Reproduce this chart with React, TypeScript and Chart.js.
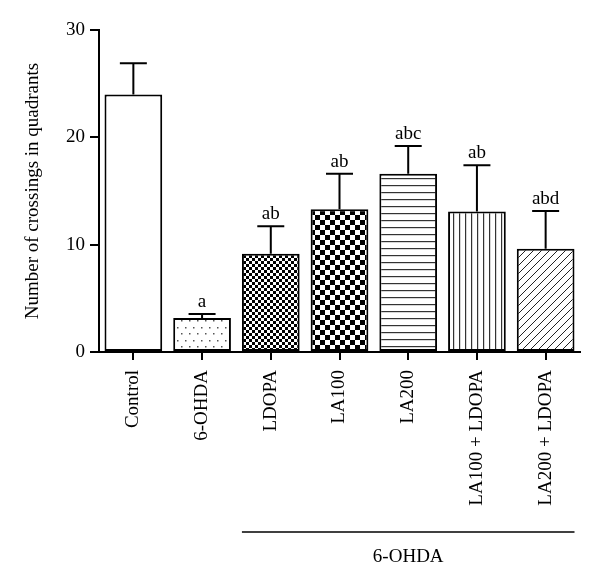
import React, { useEffect, useRef } from "react";
import { Chart, registerables } from "chart.js";

Chart.register(...registerables);

const categories = ["Control", "6-OHDA", "LDOPA", "LA100", "LA200", "LA100 + LDOPA", "LA200 + LDOPA"];
const means = [24.0, 3.17, 9.16, 13.3, 16.6, 13.1, 9.63];
const sems = [2.9, 0.37, 2.55, 3.3, 2.6, 4.3, 3.5];
const letters = ["", "a", "ab", "ab", "abc", "ab", "abd"];
const yTicks = [0, 10, 20, 30];
const groupLabel = "6-OHDA";
const groupStart = 2;
const groupEnd = 6;

const FONT = "'Liberation Serif', 'DejaVu Serif', serif";

function makePattern(w: number, h: number, draw: (ctx: CanvasRenderingContext2D) => void) {
  const c = document.createElement("canvas");
  c.width = w;
  c.height = h;
  const ctx = c.getContext("2d")!;
  ctx.fillStyle = "#fff";
  ctx.fillRect(0, 0, w, h);
  draw(ctx);
  return ctx.createPattern(c, "repeat")!;
}

function buildFills() {
  const white = "#ffffff";
  const dots = makePattern(8, 13, (ctx) => {
    ctx.fillStyle = "#555";
    ctx.fillRect(1, 2, 1.5, 1.5);
    ctx.fillRect(5, 8, 1.5, 1.5);
  });
  const fineCheck = makePattern(6, 6, (ctx) => {
    ctx.fillStyle = "#000";
    ctx.fillRect(0, 0, 3, 3);
    ctx.fillRect(3, 3, 3, 3);
  });
  const coarseCheck = makePattern(10, 10, (ctx) => {
    ctx.fillStyle = "#000";
    ctx.fillRect(0, 0, 5, 5);
    ctx.fillRect(5, 5, 5, 5);
  });
  const hLines = makePattern(7, 7, (ctx) => {
    ctx.fillStyle = "#333";
    ctx.fillRect(0, 3, 7, 1.2);
  });
  const vLines = makePattern(6, 6, (ctx) => {
    ctx.fillStyle = "#333";
    ctx.fillRect(3, 0, 1.2, 6);
  });
  const diag = makePattern(8, 8, (ctx) => {
    ctx.strokeStyle = "#222";
    ctx.lineWidth = 1;
    ctx.beginPath();
    ctx.moveTo(-1, 9);
    ctx.lineTo(9, -1);
    ctx.moveTo(-1, 1);
    ctx.lineTo(1, -1);
    ctx.moveTo(7, 9);
    ctx.lineTo(9, 7);
    ctx.stroke();
  });
  return [white, dots, fineCheck, coarseCheck, hLines, vLines, diag];
}

const errorBarPlugin = {
  id: "errorBars",
  afterDatasetsDraw(chart: any) {
    const ctx = chart.ctx;
    const xs = chart.scales.x;
    const ys = chart.scales.y;
    ctx.save();
    ctx.strokeStyle = "#000";
    ctx.lineWidth = 2;
    ctx.fillStyle = "#000";
    ctx.font = `19px ${FONT}`;
    ctx.textAlign = "center";
    ctx.textBaseline = "alphabetic";
    means.forEach((m, i) => {
      const x = xs.getPixelForValue(i);
      const y0 = ys.getPixelForValue(m);
      const y1 = ys.getPixelForValue(m + sems[i]);
      ctx.beginPath();
      ctx.moveTo(x, y0);
      ctx.lineTo(x, y1);
      ctx.moveTo(x - 13.5, y1);
      ctx.lineTo(x + 13.5, y1);
      ctx.stroke();
      if (letters[i]) ctx.fillText(letters[i], x, y1 - 7);
    });
    ctx.restore();
  },
  afterDraw(chart: any) {
    const ctx = chart.ctx;
    const xs = chart.scales.x;
    const meta = chart.getDatasetMeta(0);
    const half = meta.data[0].width / 2;
    const x1 = xs.getPixelForValue(groupStart) - half;
    const x2 = xs.getPixelForValue(groupEnd) + half;
    const yLine = chart.height - 56;
    ctx.save();
    ctx.strokeStyle = "#000";
    ctx.lineWidth = 1.5;
    ctx.beginPath();
    ctx.moveTo(x1, yLine);
    ctx.lineTo(x2, yLine);
    ctx.stroke();
    ctx.fillStyle = "#000";
    ctx.font = `19px ${FONT}`;
    ctx.textAlign = "center";
    ctx.textBaseline = "middle";
    ctx.fillText(groupLabel, (x1 + x2) / 2, yLine + 25);
    ctx.restore();
  },
};

export default function App() {
  const ref = useRef<HTMLCanvasElement>(null);
  useEffect(() => {
    const canvas = ref.current!;
    const fills = buildFills();
    const chart = new Chart(canvas, {
      type: "bar",
      data: {
        labels: categories,
        datasets: [
          {
            data: means,
            backgroundColor: fills as any,
            borderColor: "#000",
            borderWidth: 2,
            borderSkipped: false,
            categoryPercentage: 1,
            barPercentage: 0.84,
          },
        ],
      },
      options: {
        animation: false,
        responsive: false,
        devicePixelRatio: 1,
        layout: { padding: { top: 30, right: 20, left: 0, bottom: 0 } },
        plugins: { legend: { display: false }, tooltip: { enabled: false } },
        scales: {
          x: {
            offset: true,
            afterFit: (s: any) => {
              s.height = 236;
            },
            grid: {
              offset: false,
              drawOnChartArea: false,
              drawTicks: true,
              tickLength: 8,
              color: "#000",
              lineWidth: 2,
            },
            border: { color: "#000", width: 2 },
            ticks: {
              color: "#000",
              font: { family: FONT, size: 19 },
              minRotation: 90,
              maxRotation: 90,
              padding: 10,
              autoSkip: false,
            },
          },
          y: {
            min: 0,
            max: 30,
            afterFit: (s: any) => {
              s.width = 99;
            },
            afterBuildTicks: (s: any) => {
              s.ticks = yTicks.map((v) => ({ value: v }));
            },
            grid: {
              drawOnChartArea: false,
              drawTicks: true,
              tickLength: 9,
              color: "#000",
              lineWidth: 2,
            },
            border: { color: "#000", width: 2 },
            ticks: {
              color: "#000",
              font: { family: FONT, size: 19 },
              padding: 5,
            },
            title: {
              display: true,
              text: "Number of crossings in quadrants",
              color: "#000",
              font: { family: FONT, size: 19 },
              padding: { top: 22, bottom: 0 },
            },
          },
        },
      },
      plugins: [errorBarPlugin],
    });
    return () => chart.destroy();
  }, []);
  return (
    <div style={{ position: "fixed", left: 0, top: 0, width: 600, height: 588, background: "#fff" }}>
      <canvas ref={ref} width={600} height={588} />
    </div>
  );
}
